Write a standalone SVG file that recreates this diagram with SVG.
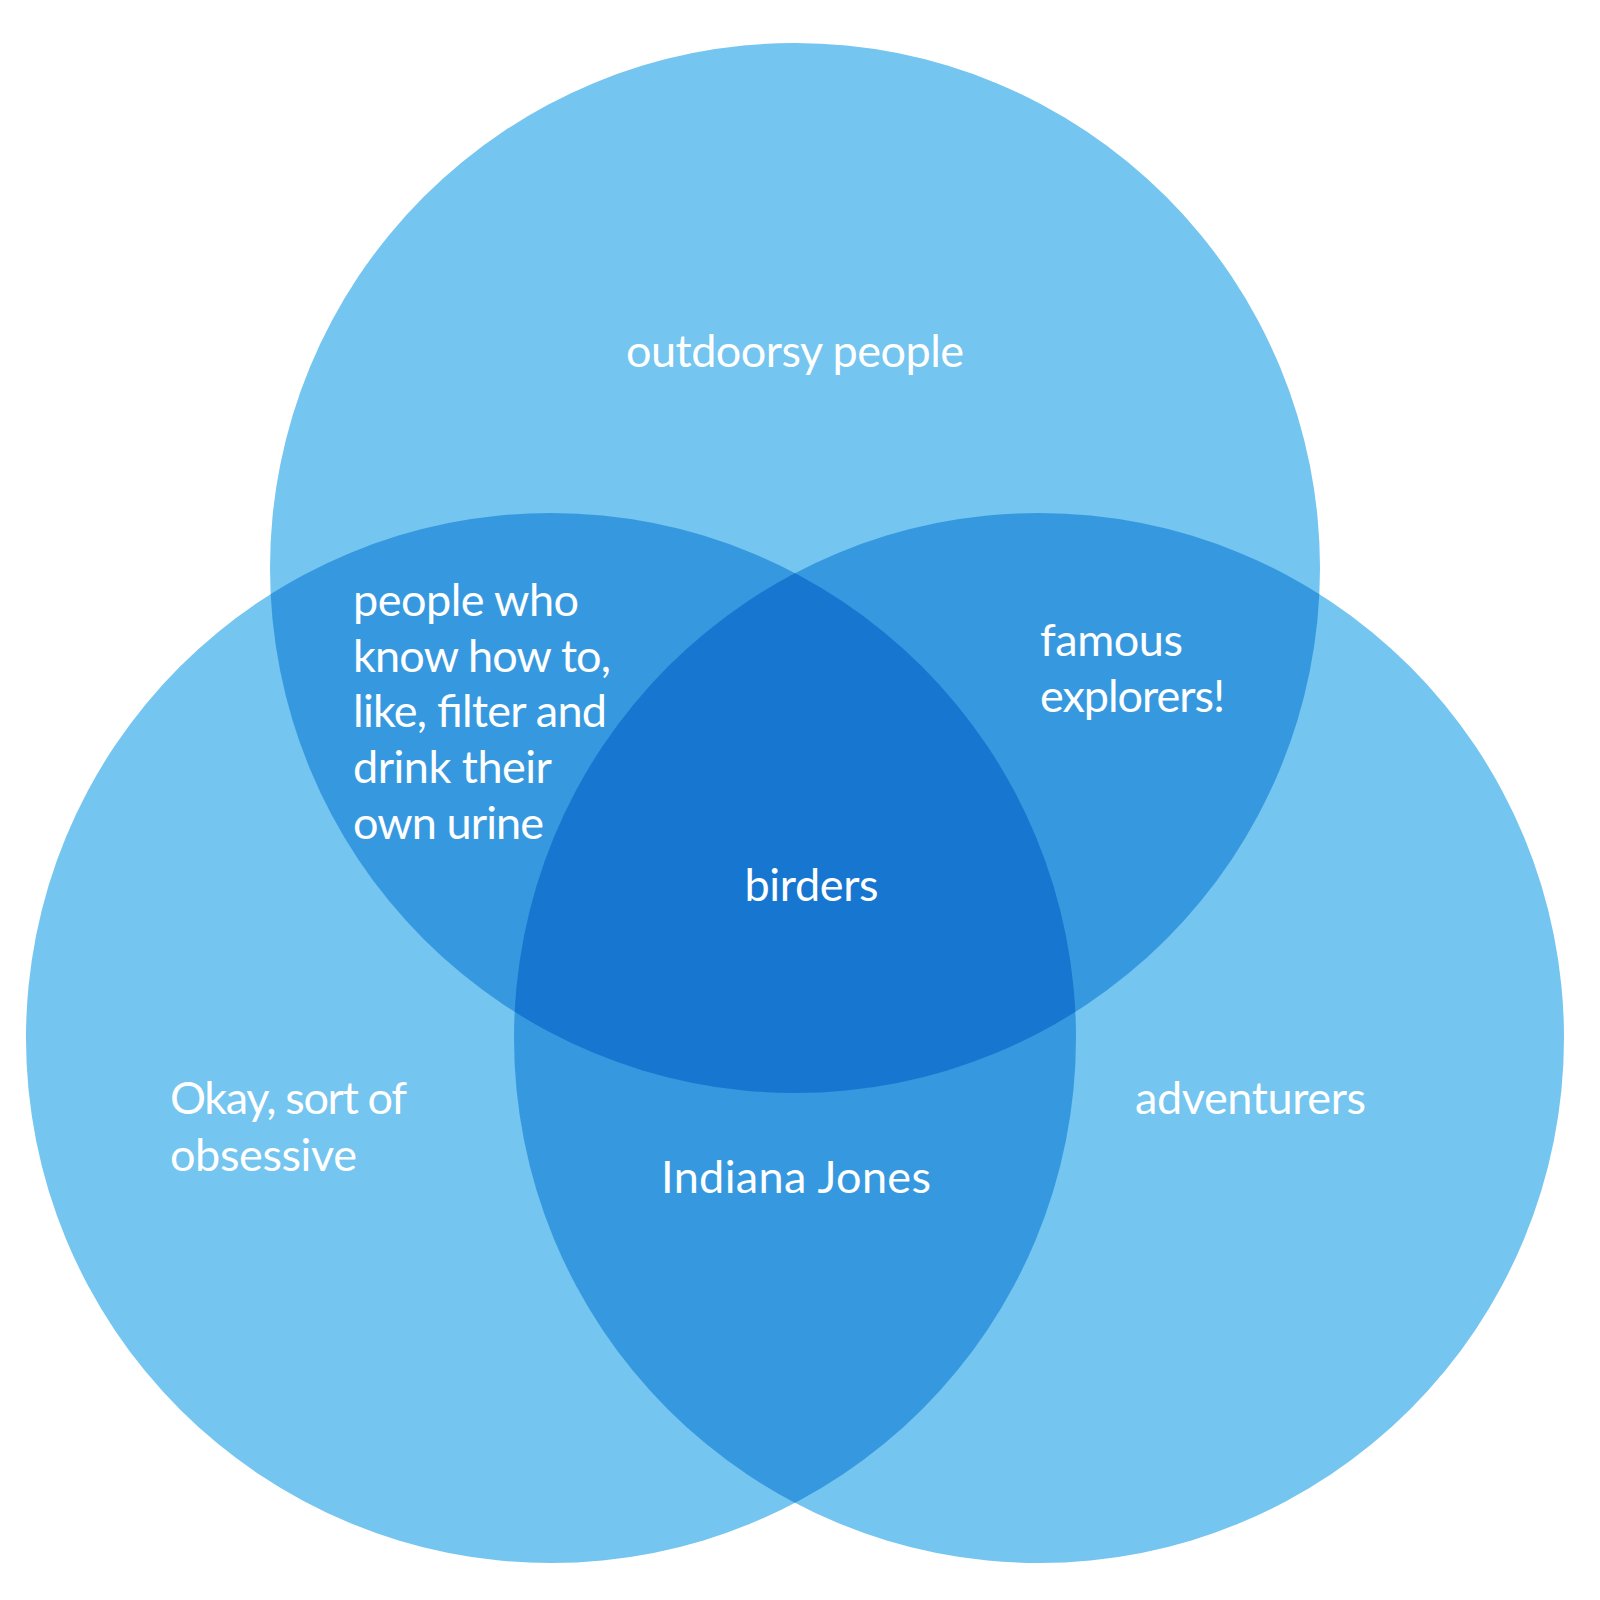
<svg xmlns="http://www.w3.org/2000/svg" width="1600" height="1600" viewBox="0 0 1600 1600">
  <style>
    .l1 { fill: #74C5EF; }
    .l2 { fill: #3699DF; }
    .l3 { fill: #1777D0; }
    text { font-family: "Lato", "Open Sans", sans-serif; font-size: 45px; fill: #FFFFFF; }
  </style>
  <defs>
    <circle id="cTop" cx="795" cy="568" r="525"/>
    <circle id="cLeft" cx="551" cy="1038" r="525"/>
    <circle id="cRight" cx="1039" cy="1038" r="525"/>
    <clipPath id="clipTop"><use href="#cTop"/></clipPath>
    <clipPath id="clipLeft"><use href="#cLeft"/></clipPath>
  </defs>
  <rect width="1600" height="1600" fill="#FFFFFF"/>
  <g id="regions">
    <use href="#cTop" class="l1"/>
    <use href="#cLeft" class="l1"/>
    <use href="#cRight" class="l1"/>
    <g clip-path="url(#clipTop)">
      <use href="#cLeft" class="l2"/>
      <use href="#cRight" class="l2"/>
    </g>
    <g clip-path="url(#clipLeft)">
      <use href="#cRight" class="l2"/>
    </g>
    <g clip-path="url(#clipTop)">
      <g clip-path="url(#clipLeft)">
        <use href="#cRight" class="l3"/>
      </g>
    </g>
  </g>
  <g id="label-top">
    <text x="795" y="367" text-anchor="middle" textLength="338">outdoorsy people</text>
  </g>
  <g id="label-top-left">
    <text x="353" y="616" textLength="226">people who</text>
    <text x="353" y="671.5" textLength="258">know how to,</text>
    <text x="353" y="727" textLength="254">like, filter and</text>
    <text x="353" y="783" textLength="199">drink their</text>
    <text x="353" y="838.5" textLength="191">own urine</text>
  </g>
  <g id="label-top-right">
    <text x="1040" y="656" textLength="143">famous</text>
    <text x="1040" y="712" textLength="185">explorers!</text>
  </g>
  <g id="label-center">
    <text x="811.5" y="901" text-anchor="middle" textLength="134">birders</text>
  </g>
  <g id="label-left">
    <text x="170" y="1114" textLength="237">Okay, sort of</text>
    <text x="170" y="1171" textLength="187">obsessive</text>
  </g>
  <g id="label-bottom">
    <text x="796" y="1193" text-anchor="middle" textLength="270">Indiana Jones</text>
  </g>
  <g id="label-right">
    <text x="1135" y="1114" textLength="231">adventurers</text>
  </g>
</svg>
